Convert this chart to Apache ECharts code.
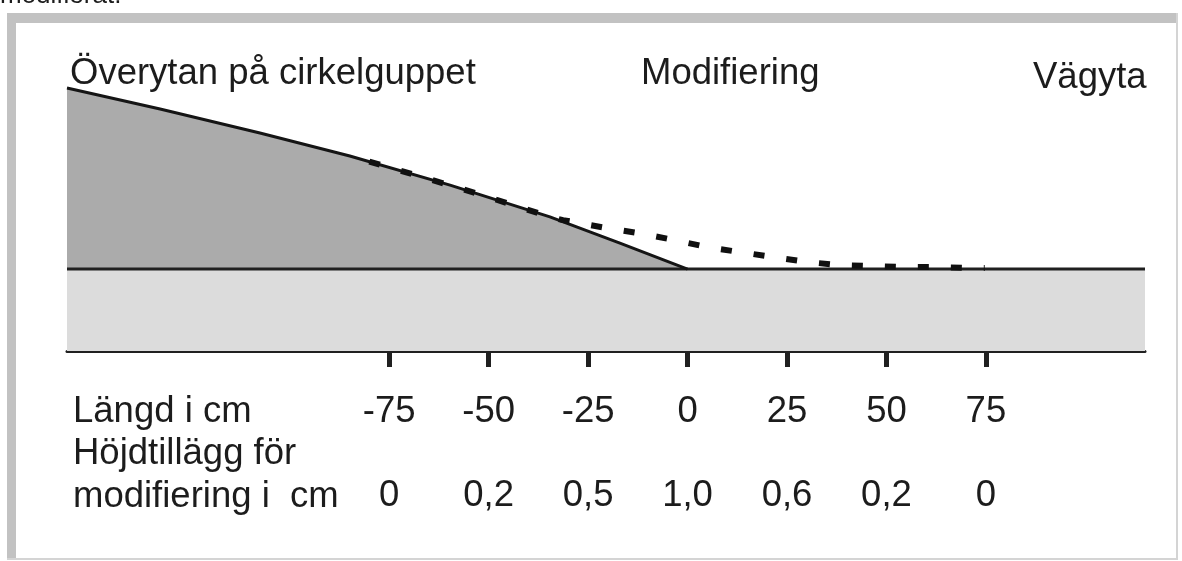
<!DOCTYPE html>
<html>
<head>
<meta charset="utf-8">
<script src="https://cdn.jsdelivr.net/npm/echarts@6/dist/echarts.min.js"></script>
<style>
html,body{margin:0;padding:0;background:#fff;}
#c{width:1182px;height:561px;}
</style>
</head>
<body>
<div id="c"></div>
<script>
// Length along the road (cm) at the tick marks
const lengths = [-75, -50, -25, 0, 25, 50, 75];
// Height addition for the modification (cm), as printed
const heightAddLabels = ['0', '0,2', '0,5', '1,0', '0,6', '0,2', '0'];
// Original hump surface profile (x cm, height above road in drawing units)
const humpX = [-156, -132.6, -107.5, -84.9, -59.7, -34.6, -17.0, 0];
const humpY = [45.5, 40.2, 34.2, 28.4, 21.1, 13.1, 6.5, 0];
// Modified profile (dashed)
const modX = [-80, -68, -51.4, -34.6, -31.3, -20.3, -12.2, -3.4, 5.1, 12.9, 21.5, 29.8, 38.1, 46.6, 54.4, 63, 71.2, 74.7];
const modY = [27.0, 23.5, 18.5, 13.1, 12.3, 10.3, 9.0, 7.3, 5.5, 4.3, 3.0, 1.8, 1.0, 0.75, 0.5, 0.5, 0.25, 0.25];
// Road surface extent and thickness
const roadX = [-156, 115];
const roadBottom = -20.6;

const FONT = '"Liberation Sans", Arial, sans-serif';
const FS = 36.5;
const TXT = '#1c1c1c';

const chart = echarts.init(document.getElementById('c'), null, {renderer: 'canvas'});

const zip = (xs, ys) => xs.map((x, i) => [x, ys[i]]);

chart.setOption({
  animation: false,
  backgroundColor: '#ffffff',
  grid: [
    {left: 67, width: 1078, top: 86, height: 265},
    {left: 389.2, width: 596.7, top: 86, height: 265}
  ],
  xAxis: [
    {gridIndex: 0, type: 'value', min: roadX[0], max: roadX[1],
     axisLine: {show: true, onZero: false, lineStyle: {color: '#202020', width: 3}},
     axisTick: {show: false}, axisLabel: {show: false}, splitLine: {show: false}},
    {gridIndex: 1, type: 'value', min: -75, max: 75, interval: 25, position: 'bottom',
     axisLine: {show: false, onZero: false},
     axisTick: {show: true, inside: false, length: 16, lineStyle: {color: '#202020', width: 5}},
     axisLabel: {show: true, margin: 42, fontSize: FS, fontFamily: FONT, color: TXT,
       formatter: v => String(v)},
     splitLine: {show: false}},
    {gridIndex: 1, type: 'value', min: -75, max: 75, interval: 25, position: 'bottom',
     axisLine: {show: false, onZero: false}, axisTick: {show: false},
     axisLabel: {show: true, margin: 126, fontSize: FS, fontFamily: FONT, color: TXT,
       formatter: v => { const i = lengths.indexOf(v); return i >= 0 ? heightAddLabels[i] : ''; }},
     splitLine: {show: false}}
  ],
  yAxis: [
    {gridIndex: 0, type: 'value', min: roadBottom, max: 46, show: false},
    {gridIndex: 1, type: 'value', min: roadBottom, max: 46, show: false}
  ],
  series: [
    {type: 'line', xAxisIndex: 0, yAxisIndex: 0, data: zip(humpX, humpY), symbol: 'none',
     lineStyle: {width: 0}, areaStyle: {color: '#ababab', opacity: 1, origin: 'start'}, z: 1},
    {type: 'line', xAxisIndex: 0, yAxisIndex: 0, data: roadX.map(x => [x, 0]), symbol: 'none',
     lineStyle: {color: '#202020', width: 3}, areaStyle: {color: '#dcdcdc', opacity: 1, origin: 'start'}, z: 2},
    {type: 'line', xAxisIndex: 0, yAxisIndex: 0, data: zip(humpX, humpY), symbol: 'none',
     lineStyle: {color: '#151515', width: 3, join: 'round'}, z: 3},
    {type: 'line', xAxisIndex: 0, yAxisIndex: 0, data: zip(modX, modY), symbol: 'none',
     lineStyle: {color: '#101010', width: 6, type: [11, 22], cap: 'butt'}, z: 4}
  ],
  graphic: [
    {type: 'rect', shape: {x: 7, y: 13, width: 1171, height: 10}, style: {fill: '#c2c2c2'}, silent: true},
    {type: 'rect', shape: {x: 7, y: 13, width: 9, height: 547}, style: {fill: '#c2c2c2'}, silent: true},
    {type: 'rect', shape: {x: 1176, y: 13, width: 2, height: 547}, style: {fill: '#d4d4d4'}, silent: true},
    {type: 'rect', shape: {x: 7, y: 558, width: 1171, height: 2}, style: {fill: '#d4d4d4'}, silent: true},
    {type: 'text', left: 0, top: -17, style: {text: 'modifierat.', font: '26px ' + FONT, fill: TXT}},
    {type: 'text', left: 70, top: 55, style: {text: 'Överytan på cirkelguppet', font: FS + 'px ' + FONT, fill: TXT}},
    {type: 'text', left: 641, top: 55, style: {text: 'Modifiering', font: FS + 'px ' + FONT, fill: TXT}},
    {type: 'text', left: 1033, top: 59, style: {text: 'Vägyta', font: FS + 'px ' + FONT, fill: TXT}},
    {type: 'text', left: 73, top: 393, style: {text: 'Längd i cm', font: FS + 'px ' + FONT, fill: TXT}},
    {type: 'text', left: 73, top: 435, style: {text: 'Höjdtillägg för', font: FS + 'px ' + FONT, fill: TXT}},
    {type: 'text', left: 73, top: 478, style: {text: 'modifiering i  cm', font: FS + 'px ' + FONT, fill: TXT}}
  ]
});
</script>
</body>
</html>
